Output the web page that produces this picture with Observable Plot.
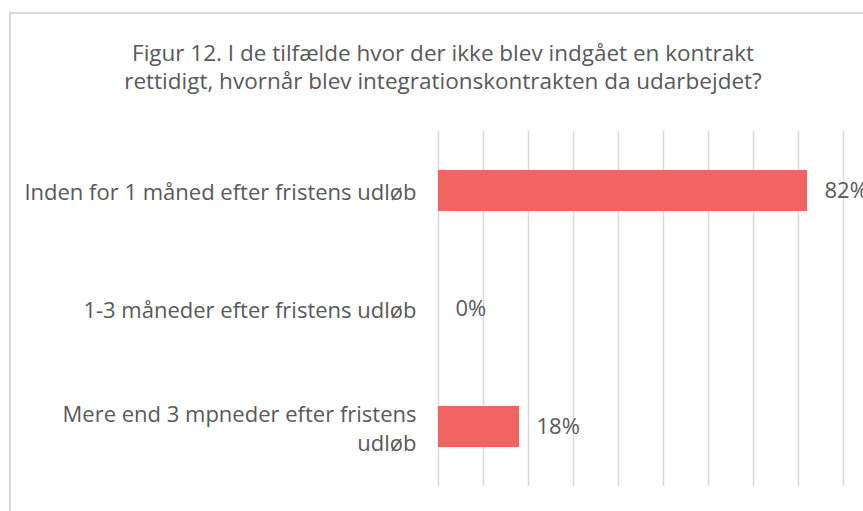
<!DOCTYPE html>
<html>
<head>
<meta charset="utf-8">
<script src="https://cdn.jsdelivr.net/npm/d3@7"></script>
<script src="https://cdn.jsdelivr.net/npm/@observablehq/plot@0.6"></script>
<style>
  html, body { margin: 0; padding: 0; background: #fff; overflow: hidden; width: 863px; height: 511px; }
  #frame { position: absolute; left: 9px; top: 12px; width: 864px; height: 520px; border: 2px solid #d9d9d9; background: #fff; }
  #title { position: absolute; left: 0; right: 0; top: 25px; text-align: center; font-family: "Open Sans", sans-serif; font-size: 22.5px; line-height: 28px; color: #595959; }
  #chart { position: absolute; left: 0; top: 0; }
  #chart svg { overflow: visible; }
</style>
</head>
<body>
<div id="frame">
  <div id="title">Figur 12. I de tilfælde hvor der ikke blev indgået en kontrakt<br>rettidigt, hvornår blev integrationskontrakten da udarbejdet?</div>
  <div id="chart"></div>
</div>
<script>
const categories = [
  "Inden for 1 måned efter fristens udløb",
  "1-3 måneder efter fristens udløb",
  "Mere end 3 mpneder efter fristens\nudløb"
];
const values = [0.82, 0.00, 0.18];
const xTicks = [0, 0.1, 0.2, 0.3, 0.4, 0.5, 0.6, 0.7, 0.8, 0.9];

const data = categories.map((c, i) => ({category: c, value: values[i]}));

const chart = Plot.plot({
  width: 864,
  height: 502,
  marginLeft: 427,
  marginRight: 32,
  marginTop: 117,
  marginBottom: 30,
  style: {fontFamily: "'Open Sans', sans-serif", fontSize: "22px", color: "#595959", background: "transparent"},
  x: {domain: [0, 0.9], axis: null},
  y: {domain: categories, paddingInner: 0.65, paddingOuter: 0.325, axis: null},
  marks: [
    Plot.ruleX(xTicks, {stroke: "#d9d9d9", strokeWidth: 1.5, strokeOpacity: 1}),
    Plot.barX(data, {x: "value", y: "category", fill: "#f06561"}),
    Plot.axisY({tickSize: 0, tickPadding: 22, textAnchor: "end", fontSize: 22, lineHeight: 1.32, fill: "#595959", label: null}),
    Plot.text(data, {x: "value", y: "category", text: d => Math.round(d.value * 100) + "%", textAnchor: "start", dx: 17, fontSize: 22, fill: "#595959"})
  ]
});
document.getElementById("chart").appendChild(chart);
</script>
</body>
</html>
